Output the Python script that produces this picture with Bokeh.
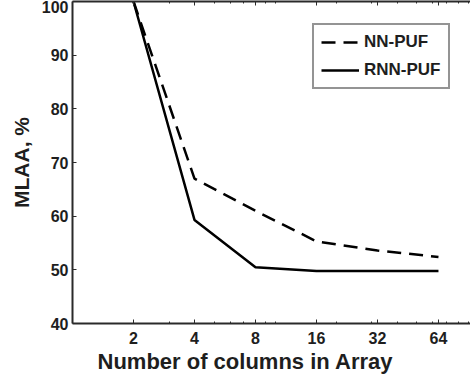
from bokeh.plotting import figure
from bokeh.models import FixedTicker, LogAxis, Range1d, Legend, LegendItem, Title
from bokeh.embed import file_html
from bokeh.resources import INLINE

# Data
columns = [2, 4, 8, 16, 32, 64]
nn_puf = [100, 67, 61, 55.3, 53.6, 52.4]
rnn_puf = [100, 59.3, 50.5, 49.8, 49.8, 49.8]
x_ticks = [2, 4, 8, 16, 32, 64]
x_minor = [3, 5, 6, 7, 9, 10, 20, 30, 40, 50, 60, 70, 80, 90]
y_ticks = [40, 50, 60, 70, 80, 90, 100]

FONT = "Liberation Sans"
TXT = "#1e1e1e"
AX = "#2a2a2a"

p = figure(width=470, height=377, x_axis_type="log",
           x_range=Range1d(1, 92.1), y_range=Range1d(40, 100),
           output_backend="svg", toolbar_location=None,
           min_border_left=72, min_border_right=0, min_border_top=1, min_border_bottom=54)
p.outline_line_color = None
p.grid.visible = False
p.background_fill_color = "white"
p.border_fill_color = "white"

r1 = p.line(columns, nn_puf, line_color="black", line_width=2.5, line_dash="14 8")
r2 = p.line(columns, rnn_puf, line_color="black", line_width=2.5)

xa = p.xaxis[0]
xa.ticker = FixedTicker(ticks=x_ticks, minor_ticks=x_minor)
xa.major_label_overrides = {t: str(t) for t in x_ticks}
ya = p.yaxis[0]
ya.ticker = FixedTicker(ticks=y_ticks)

for ax in (xa, ya):
    ax.axis_line_color = AX
    ax.axis_line_width = 2
    ax.major_tick_line_color = AX
    ax.minor_tick_line_color = AX
    ax.major_tick_in = 4
    ax.major_tick_out = 0
    ax.minor_tick_in = 2
    ax.minor_tick_out = 0
    ax.major_label_text_font = FONT
    ax.major_label_text_font_style = "bold"
    ax.major_label_text_font_size = "16px"
    ax.major_label_text_color = TXT
    ax.axis_label_text_font = FONT
    ax.axis_label_text_font_style = "bold"
    ax.axis_label_text_font_size = "21px"
    ax.axis_label_text_color = TXT

ya.minor_tick_line_color = None
ya.axis_label = "MLAA, %"
xa.major_label_standoff = 8
ya.major_label_standoff = 4
ya.axis_label_standoff = 6

xlabel = Title(text="Number of columns in Array", align="left", offset=25,
               text_font=FONT, text_font_style="bold", text_font_size="22px",
               text_color=TXT, standoff=0)
p.add_layout(xlabel, "below")

top = LogAxis(ticker=FixedTicker(ticks=x_ticks, minor_ticks=x_minor),
              axis_line_color=AX, axis_line_width=2,
              major_tick_line_color=AX, minor_tick_line_color=AX,
              major_tick_in=4, major_tick_out=0, minor_tick_in=2, minor_tick_out=0,
              major_label_text_font_size="0px", major_label_text_color=None,
              major_label_standoff=0)
p.add_layout(top, "above")

legend = Legend(items=[LegendItem(label="NN-PUF", renderers=[r1]),
                       LegendItem(label="RNN-PUF", renderers=[r2])],
                location=(240, 234), padding=7, spacing=8, margin=0,
                glyph_width=38, glyph_height=20, label_standoff=5,
                label_text_font=FONT, label_text_font_style="bold",
                label_text_font_size="17px", label_text_color=TXT,
                border_line_color=AX, border_line_width=2,
                background_fill_alpha=1)
p.add_layout(legend)

open("out.html", "w").write(file_html(p, INLINE))
